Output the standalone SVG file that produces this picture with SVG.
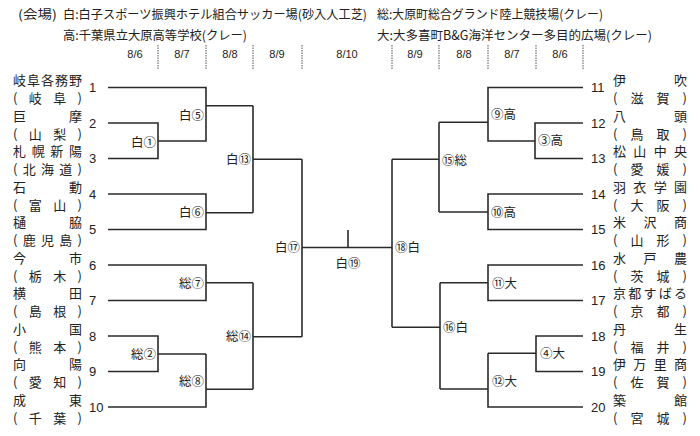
<svg xmlns="http://www.w3.org/2000/svg" width="700" height="436" viewBox="0 0 700 436">
<style>
text{font-family:"Noto Sans CJK JP","Noto Sans",sans-serif;fill:#222}
.hd{font-size:12.5px}
.nm{font-size:13px}
.no{font-family:"Liberation Sans",Arial,sans-serif;font-size:13px}
.dt{font-family:"Liberation Sans",Arial,sans-serif;font-size:11px;text-anchor:middle}
.lb{font-size:12.5px}
.l{text-anchor:end}
.sep{stroke:#555;stroke-width:1;stroke-dasharray:1.5 1;fill:none}
#connectors path{stroke:#2a2a2a;stroke-width:1.6;fill:none}
</style>
<rect width="700" height="436" fill="#fff"/>
<g id="header">
<text class="hd" x="18" y="19" textLength="39" lengthAdjust="spacingAndGlyphs">(会場)</text>
<text class="hd" x="63" y="19" textLength="304" lengthAdjust="spacingAndGlyphs">白:白子スポーツ振興ホテル組合サッカー場(砂入人工芝)</text>
<text class="hd" x="377" y="19" textLength="226" lengthAdjust="spacingAndGlyphs">総:大原町総合グランド陸上競技場(クレー)</text>
<text class="hd" x="63" y="40" textLength="184" lengthAdjust="spacingAndGlyphs">高:千葉県立大原高等学校(クレー)</text>
<text class="hd" x="377" y="40" textLength="275" lengthAdjust="spacingAndGlyphs">大:大多喜町B&amp;G海洋センター多目的広場(クレー)</text>
</g>
<g id="dates">
<text class="dt" x="135" y="58">8/6</text>
<text class="dt" x="182" y="58">8/7</text>
<text class="dt" x="230" y="58">8/8</text>
<text class="dt" x="277" y="58">8/9</text>
<text class="dt" x="347" y="58">8/10</text>
<text class="dt" x="415" y="58">8/9</text>
<text class="dt" x="464" y="58">8/8</text>
<text class="dt" x="512" y="58">8/7</text>
<text class="dt" x="560" y="58">8/6</text>
<path class="sep" d="M158,45V70M206,45V70M253,45V70M302,45V70M392,45V70M439,45V70M488,45V70M536,45V70M583,45V70"/>
</g>
<g id="connectors">
<path d="M108,87.5H206V141H158"/>
<path d="M206,105.7H253"/>
<path d="M108,123H158V158.5H108"/>
<path d="M253,105.7V212.7M253,159.3H302"/>
<path d="M108,194H206V229.5H108M206,212.7H253"/>
<path d="M108,265H206V300.5H108M206,282.7H253"/>
<path d="M108,336H158V371.5H108M158,354H206"/>
<path d="M206,354V407H108M206,389.3H253"/>
<path d="M253,282.7V389.3M253,336.7H302"/>
<path d="M302,159.3V336.7M302,247.5H392"/>
<path d="M348,230V247.5"/>
<path d="M392,159.3V327.3"/>
<path d="M392,159.3H439M439,122.3V212"/>
<path d="M583,87.5H488V141H535M488,122.3H439"/>
<path d="M583,123H535V158.5H583"/>
<path d="M583,194H488V229.5H583M488,212H439"/>
<path d="M583,265H488V300.5H583M488,282.7H440"/>
<path d="M583,336H536V371.5H583M536,353.3H488"/>
<path d="M488,353.3V407H583M488,389H440"/>
<path d="M440,282.7V389M440,327.3H392"/>
</g>
<g id="match-labels">
<text class="lb l" x="156" y="146.8">白①</text>
<text class="lb l" x="204" y="119.8">白⑤</text>
<text class="lb l" x="251" y="163.8">白⑬</text>
<text class="lb l" x="204" y="217.3">白⑥</text>
<text class="lb l" x="300" y="251.8">白⑰</text>
<text class="lb l" x="204" y="287.8">総⑦</text>
<text class="lb l" x="156" y="358.8">総②</text>
<text class="lb l" x="204" y="385.8">総⑧</text>
<text class="lb l" x="251" y="340.8">総⑭</text>
<text class="lb" x="348" y="267.8" text-anchor="middle">白⑲</text>
<text class="lb" x="395" y="251.8">⑱白</text>
<text class="lb" x="442" y="164.8">⑮総</text>
<text class="lb" x="491" y="118.8">⑨高</text>
<text class="lb" x="538" y="145.3">③高</text>
<text class="lb" x="491" y="216.8">⑩高</text>
<text class="lb" x="492" y="287.8">⑪大</text>
<text class="lb" x="443" y="331.8">⑯白</text>
<text class="lb" x="540" y="358.3">④大</text>
<text class="lb" x="492" y="385.8">⑫大</text>
</g>
<g id="team-1"><text class="nm" x="13" y="85" textLength="69" lengthAdjust="spacing">岐阜各務野</text><text class="nm" x="13" y="103" textLength="69" lengthAdjust="spacing">(岐阜)</text><text class="no" x="89" y="92">1</text></g>
<g id="team-2"><text class="nm" x="13" y="120.5" textLength="69" lengthAdjust="spacing">巨摩</text><text class="nm" x="13" y="138.5" textLength="69" lengthAdjust="spacing">(山梨)</text><text class="no" x="89" y="127.5">2</text></g>
<g id="team-3"><text class="nm" x="13" y="156" textLength="69" lengthAdjust="spacing">札幌新陽</text><text class="nm" x="13" y="174" textLength="69" lengthAdjust="spacing">(北海道)</text><text class="no" x="89" y="163">3</text></g>
<g id="team-4"><text class="nm" x="13" y="191.5" textLength="69" lengthAdjust="spacing">石動</text><text class="nm" x="13" y="209.5" textLength="69" lengthAdjust="spacing">(富山)</text><text class="no" x="89" y="198.5">4</text></g>
<g id="team-5"><text class="nm" x="13" y="227" textLength="69" lengthAdjust="spacing">樋脇</text><text class="nm" x="13" y="245" textLength="69" lengthAdjust="spacing">(鹿児島)</text><text class="no" x="89" y="234">5</text></g>
<g id="team-6"><text class="nm" x="13" y="262.5" textLength="69" lengthAdjust="spacing">今市</text><text class="nm" x="13" y="280.5" textLength="69" lengthAdjust="spacing">(栃木)</text><text class="no" x="89" y="269.5">6</text></g>
<g id="team-7"><text class="nm" x="13" y="298" textLength="69" lengthAdjust="spacing">横田</text><text class="nm" x="13" y="316" textLength="69" lengthAdjust="spacing">(島根)</text><text class="no" x="89" y="305">7</text></g>
<g id="team-8"><text class="nm" x="13" y="333.5" textLength="69" lengthAdjust="spacing">小国</text><text class="nm" x="13" y="351.5" textLength="69" lengthAdjust="spacing">(熊本)</text><text class="no" x="89" y="340.5">8</text></g>
<g id="team-9"><text class="nm" x="13" y="369" textLength="69" lengthAdjust="spacing">向陽</text><text class="nm" x="13" y="387" textLength="69" lengthAdjust="spacing">(愛知)</text><text class="no" x="89" y="376">9</text></g>
<g id="team-10"><text class="nm" x="13" y="404.5" textLength="69" lengthAdjust="spacing">成東</text><text class="nm" x="13" y="422.5" textLength="69" lengthAdjust="spacing">(千葉)</text><text class="no" x="89" y="411.5">10</text></g>
<g id="team-11"><text class="nm" x="613" y="85" textLength="74" lengthAdjust="spacing">伊吹</text><text class="nm" x="613" y="103" textLength="74" lengthAdjust="spacing">(滋賀)</text><text class="no" x="591" y="92">11</text></g>
<g id="team-12"><text class="nm" x="613" y="120.5" textLength="74" lengthAdjust="spacing">八頭</text><text class="nm" x="613" y="138.5" textLength="74" lengthAdjust="spacing">(鳥取)</text><text class="no" x="591" y="127.5">12</text></g>
<g id="team-13"><text class="nm" x="613" y="156" textLength="74" lengthAdjust="spacing">松山中央</text><text class="nm" x="613" y="174" textLength="74" lengthAdjust="spacing">(愛媛)</text><text class="no" x="591" y="163">13</text></g>
<g id="team-14"><text class="nm" x="613" y="191.5" textLength="74" lengthAdjust="spacing">羽衣学園</text><text class="nm" x="613" y="209.5" textLength="74" lengthAdjust="spacing">(大阪)</text><text class="no" x="591" y="198.5">14</text></g>
<g id="team-15"><text class="nm" x="613" y="227" textLength="74" lengthAdjust="spacing">米沢商</text><text class="nm" x="613" y="245" textLength="74" lengthAdjust="spacing">(山形)</text><text class="no" x="591" y="234">15</text></g>
<g id="team-16"><text class="nm" x="613" y="262.5" textLength="74" lengthAdjust="spacing">水戸農</text><text class="nm" x="613" y="280.5" textLength="74" lengthAdjust="spacing">(茨城)</text><text class="no" x="591" y="269.5">16</text></g>
<g id="team-17"><text class="nm" x="613" y="298" textLength="74" lengthAdjust="spacing">京都すばる</text><text class="nm" x="613" y="316" textLength="74" lengthAdjust="spacing">(京都)</text><text class="no" x="591" y="305">17</text></g>
<g id="team-18"><text class="nm" x="613" y="333.5" textLength="74" lengthAdjust="spacing">丹生</text><text class="nm" x="613" y="351.5" textLength="74" lengthAdjust="spacing">(福井)</text><text class="no" x="591" y="340.5">18</text></g>
<g id="team-19"><text class="nm" x="613" y="369" textLength="74" lengthAdjust="spacing">伊万里商</text><text class="nm" x="613" y="387" textLength="74" lengthAdjust="spacing">(佐賀)</text><text class="no" x="591" y="376">19</text></g>
<g id="team-20"><text class="nm" x="613" y="404.5" textLength="74" lengthAdjust="spacing">築館</text><text class="nm" x="613" y="422.5" textLength="74" lengthAdjust="spacing">(宮城)</text><text class="no" x="591" y="411.5">20</text></g>
</svg>
